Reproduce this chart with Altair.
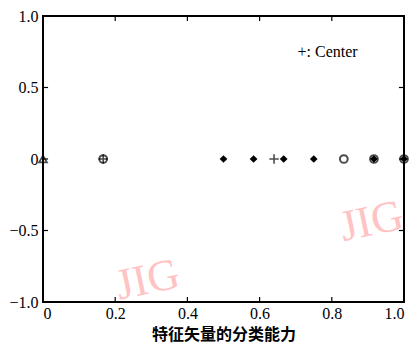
import altair as alt
import pandas as pd

# data
triangle_x = [0.0]
circle_x = [0.1667, 0.8333, 0.9167, 1.0]
diamond_x = [0.5, 0.5833, 0.6667, 0.75, 0.9167, 1.0]
plus_x = [0.1667, 0.64]
x_ticks = [0.0, 0.2, 0.4, 0.6, 0.8, 1.0]
y_ticks = [-1.0, -0.5, 0.0, 0.5, 1.0]
legend_text = "+: Center"
x_title = "特征矢量的分类能力"
watermark = ["JIG", "JIG"]
wm_x = [0.29, 0.91]
wm_y = [-0.85, -0.44]

xs = alt.Scale(domain=[0, 1], nice=False, zero=False)
ys = alt.Scale(domain=[-1, 1], nice=False, zero=False)

lab = "datum.value == 0 ? '0' : format(datum.value, '.1f')"
xaxis = alt.Axis(values=x_ticks, labelExpr=lab, ticks=False, domain=False, grid=False,
                 labelFont="Liberation Serif", labelFontSize=16, labelColor="black",
                 labelPadding=3, title=x_title, titleFont="Noto Sans CJK SC",
                 titleFontSize=16, titleFontWeight="bold", titleColor="black", titlePadding=5,
                 titleBaseline="top")
yaxis = alt.Axis(values=y_ticks, labelExpr=lab, ticks=False, domain=False, grid=False,
                 labelFont="Liberation Serif", labelFontSize=16, labelColor="black",
                 labelPadding=5, title=None)

def pts(xv):
    return pd.DataFrame({"x": xv, "y": [0.0] * len(xv)})

base_x = alt.X("x:Q", scale=xs, axis=xaxis)
base_y = alt.Y("y:Q", scale=ys, axis=yaxis)

frame = alt.Chart(pd.DataFrame({"x": [0.0], "x2": [1.0], "y": [-1.0], "y2": [1.0]})).mark_rect(
    fill=None, stroke="black", strokeWidth=2
).encode(x=base_x, x2="x2:Q", y=base_y, y2="y2:Q")

tri = alt.Chart(pts(triangle_x)).mark_point(shape="triangle-up", size=60, filled=False,
                                            color="black", strokeWidth=1.8).encode(x="x:Q", y="y:Q")
circ = alt.Chart(pts(circle_x)).mark_point(shape="circle", size=60, filled=False,
                                           color="black", strokeWidth=2).encode(x="x:Q", y="y:Q")
dia = alt.Chart(pts(diamond_x)).mark_point(shape="diamond", size=60, filled=True,
                                           color="black", opacity=1).encode(x="x:Q", y="y:Q")
plus = alt.Chart(pts(plus_x)).mark_point(shape="M-1,0L1,0M0,-1L0,1", size=90, filled=False,
                                         color="black", strokeWidth=1.6).encode(x="x:Q", y="y:Q")

# inward ticks
bt = pd.DataFrame({"x": x_ticks[1:-1]})
lt = pd.DataFrame({"y": y_ticks[1:-1]})
tick_b = alt.Chart(bt).mark_rule(color="black", strokeWidth=1.2).encode(
    x="x:Q", y=alt.datum(-1.0), y2=alt.datum(-0.965))
tick_t = alt.Chart(bt).mark_rule(color="black", strokeWidth=1.2).encode(
    x="x:Q", y=alt.datum(1.0), y2=alt.datum(0.965))
tick_l = alt.Chart(lt).mark_rule(color="black", strokeWidth=1.2).encode(
    y="y:Q", x=alt.datum(0.0), x2=alt.datum(0.014))
tick_r = alt.Chart(lt).mark_rule(color="black", strokeWidth=1.2).encode(
    y="y:Q", x=alt.datum(1.0), x2=alt.datum(0.986))

leg = alt.Chart(pd.DataFrame({"x": [0.705], "y": [0.75], "t": [legend_text]})).mark_text(
    align="left", baseline="middle", font="Liberation Serif", fontSize=16, color="black"
).encode(x="x:Q", y="y:Q", text="t:N")

wm = alt.Chart(pd.DataFrame({"x": wm_x, "y": wm_y, "t": watermark})).mark_text(
    align="center", baseline="middle", font="Liberation Serif", fontSize=44,
    color="#ff9c9c", opacity=0.6, angle=348
).encode(x="x:Q", y="y:Q", text="t:N")

chart = alt.layer(frame, wm, tri, circ, dia, plus, tick_b, tick_t, tick_l, tick_r, leg).properties(
    width=404, height=340, padding={"left": 0, "top": 0, "right": 0, "bottom": 6},
    autosize=alt.AutoSizeParams(type="fit", contains="padding")
).configure(background="white").configure_view(stroke=None)

chart.save("out.html", embed_options={"renderer": "svg", "actions": False})
